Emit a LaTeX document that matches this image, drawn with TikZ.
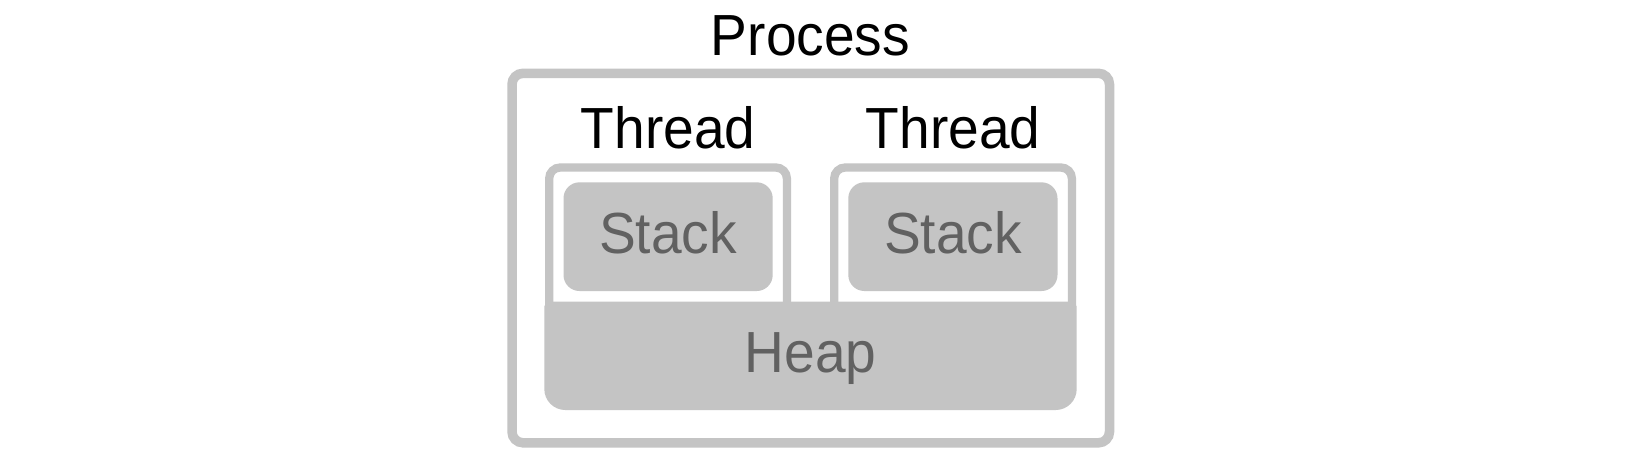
\documentclass[tikz,border=0pt]{standalone}
\usepackage{fontspec}
\setmainfont{Liberation Sans}[FakeStretch=0.95]
\definecolor{boxgray}{HTML}{C4C4C4}
\definecolor{txtgray}{HTML}{616161}
\begin{document}
\begin{tikzpicture}[x=1pt,y=-1pt,
  lbl/.style={anchor=base, inner sep=0pt, font=\fontsize{58}{60}\selectfont},
  darklbl/.style={lbl, text=black},
  greylbl/.style={lbl, text=txtgray},
  procbox/.style={draw=boxgray, line width=9.5pt, rounded corners=11pt, inner sep=0pt, outer sep=0pt},
  threadline/.style={draw=boxgray, line width=8.3pt, rounded corners=11pt},
  stackbox/.style={fill=boxgray, rounded corners=16pt, inner sep=0pt, outer sep=0pt, minimum width=209.2pt, minimum height=108.7pt},
  heaparea/.style={inner sep=0pt, outer sep=0pt, minimum width=532.4pt, minimum height=108.3pt}
]
\useasboundingbox[fill=white] (0,0) rectangle (1644,464);

% Process
\node[procbox, minimum width=597.5pt, minimum height=369.5pt] (proc) at (810.75,258.05) {};
\node[darklbl] (proclbl) at (810.5,55.5) {Process};

% Thread outlines
\coordinate (t1a) at (549.2,305);
\coordinate (t1b) at (786.9,305);
\coordinate (t2a) at (834.2,305);
\coordinate (t2b) at (1071.9,305);
\draw[threadline] (t1a) -- (549.2,167.5) -- (786.9,167.5) -- (t1b);
\draw[threadline] (t2a) -- (834.2,167.5) -- (1071.9,167.5) -- (t2b);
\node[darklbl] (th1lbl) at (668,148.3) {Thread};
\node[darklbl] (th2lbl) at (953,148.3) {Thread};

% Stacks
\node[stackbox] (s1) at (668.1,236.65) {};
\node[stackbox] (s2) at (952.9,236.65) {};
\node[greylbl] (s1lbl) at (668.1,253) {Stack};
\node[greylbl] (s2lbl) at (952.9,253) {Stack};

% Heap: small radius on top corners, larger at the bottom
\node[heaparea] (heap) at (810.5,355.85) {};
\fill[boxgray] (544.3,306.7) arc[start angle=180, end angle=270, radius=5]
  -- (1071.7,301.7) arc[start angle=270, end angle=360, radius=5]
  -- (1076.7,389) arc[start angle=0, end angle=90, radius=21]
  -- (565.3,410) arc[start angle=90, end angle=180, radius=21]
  -- cycle;
\node[greylbl] (heaplbl) at (810.5,372.3) {Heap};
\end{tikzpicture}
\end{document}
